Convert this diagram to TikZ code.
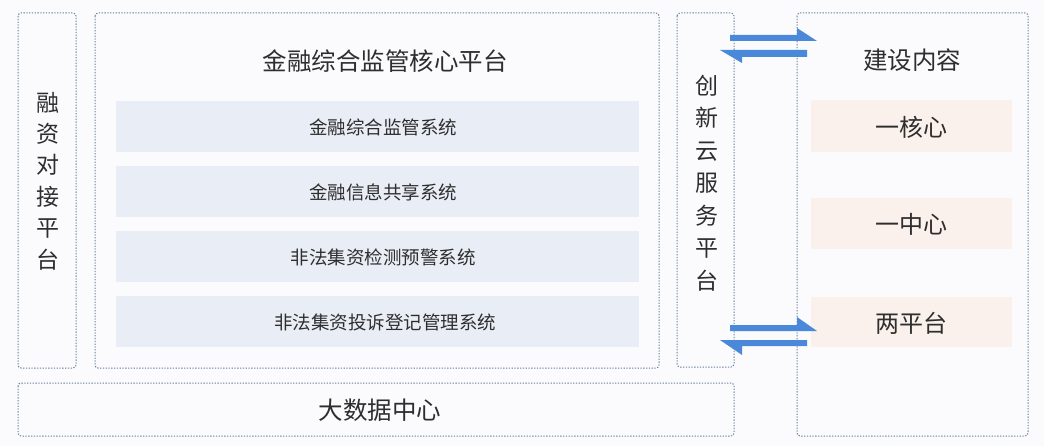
\documentclass[tikz,border=0pt]{standalone}
\usepackage{fontspec}
\setmainfont{Noto Sans CJK SC}
\begin{document}
\begin{tikzpicture}[x=1pt,y=-1pt,
  dotbox/.style={draw=dotc, line width=1pt, dash pattern=on 1.3pt off 1.5pt, rounded corners=3pt, fill=bgc},
  bar/.style={fill=barc, draw=none},
  peach/.style={fill=peachc, draw=none},
  txt/.style={text=txtc, inner sep=0pt},
  arr/.style={fill=arrc, draw=none}]
\definecolor{bgc}{HTML}{FBFBFD}
\definecolor{dotc}{HTML}{6A80A0}
\definecolor{barc}{HTML}{E9EEF6}
\definecolor{peachc}{HTML}{FBF1EC}
\definecolor{txtc}{HTML}{2E2E2E}
\definecolor{arrc}{HTML}{4A88DA}
\fill[bgc] (0,0) rectangle (1044,446);
\useasboundingbox (0,0) rectangle (1044,446);
% outer boxes
\draw[dotbox] (18,13) rectangle (76,368);
\draw[dotbox] (95,13) rectangle (659,368);
\draw[dotbox] (677,13) rectangle (734,367);
\draw[dotbox] (797,13) rectangle (1028,436);
\draw[dotbox] (18,383) rectangle (734,436);
% inner bars
\fill[bar] (116,101) rectangle (639,152);
\fill[bar] (116,166) rectangle (639,217);
\fill[bar] (116,231) rectangle (639,282);
\fill[bar] (116,296) rectangle (639,347);
\fill[peach] (811,100) rectangle (1012,152);
\fill[peach] (811,198) rectangle (1012,249);
\fill[peach] (811,297) rectangle (1012,347);
% texts
\node[txt, font=\fontsize{24.5}{28}\selectfont] (title) at (385,61) {金融综合监管核心平台};
\node[txt, font=\fontsize{18.5}{22}\selectfont] (s1) at (383,127) {金融综合监管系统};
\node[txt, font=\fontsize{18.5}{22}\selectfont] (s2) at (383,192) {金融信息共享系统};
\node[txt, font=\fontsize{18.5}{22}\selectfont] (s3) at (383,257) {非法集资检测预警系统};
\node[txt, font=\fontsize{18.5}{22}\selectfont] (s4) at (385,322) {非法集资投诉登记管理系统};
\node[txt, font=\fontsize{23}{31.4}\selectfont, align=center] (rz) at (48,181) {融\\资\\对\\接\\平\\台};
\node[txt, font=\fontsize{23}{32.5}\selectfont, align=center] (cx) at (707,183) {创\\新\\云\\服\\务\\平\\台};
\node[txt, font=\fontsize{24.5}{28}\selectfont] (js) at (912,60) {建设内容};
\node[txt, font=\fontsize{24}{28}\selectfont] (h1) at (911,127) {一核心};
\node[txt, font=\fontsize{24}{28}\selectfont] (h2) at (911,224) {一中心};
\node[txt, font=\fontsize{24}{28}\selectfont] (h3) at (911,323) {两平台};
\node[txt, font=\fontsize{24.5}{28}\selectfont] (dsj) at (380,410) {大数据中心};
% arrows
\fill[arr] (730,35) -- (797,35) -- (797,28) -- (817,41) -- (730,41) -- cycle;
\fill[arr] (807,50) -- (720,50) -- (742,63) -- (742,57) -- (807,57) -- cycle;
\fill[arr] (730,325) -- (797,325) -- (797,317) -- (817,331) -- (730,331) -- cycle;
\fill[arr] (807,340) -- (720,340) -- (742,355) -- (742,346) -- (807,346) -- cycle;
\end{tikzpicture}
\end{document}
